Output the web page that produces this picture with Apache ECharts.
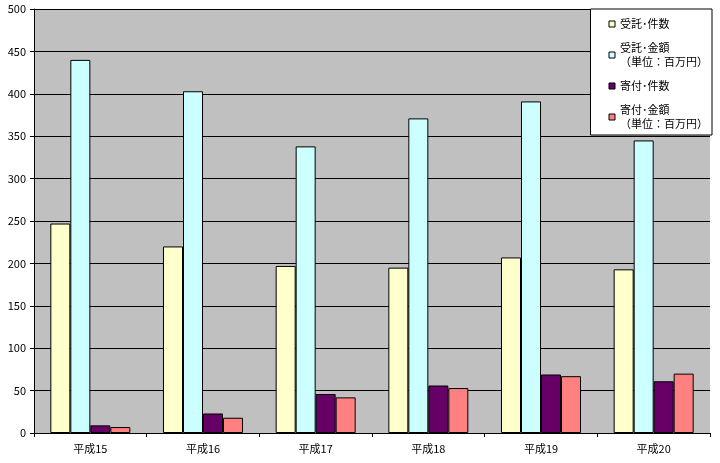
<!DOCTYPE html>
<html><head><meta charset="utf-8">
<script src="https://cdn.jsdelivr.net/npm/echarts@6/dist/echarts.min.js"></script>
<style>html,body{margin:0;padding:0;background:#fff}#c{width:720px;height:463px}</style>
</head><body><div id="c"></div>
<script>
// 年度
var categories = ['平成15', '平成16', '平成17', '平成18', '平成19', '平成20'];
// 受託・件数
var jutakuKen = [247, 220, 197, 195, 207, 193];
// 受託・金額（単位：百万円）
var jutakuKin = [440, 403, 338, 371, 391, 345];
// 寄付・件数
var kifuKen = [9, 23, 46, 56, 69, 61];
// 寄付・金額（単位：百万円）
var kifuKin = [7, 18, 42, 53, 67, 70];
var names = ['受託･件数', '受託･金額\n（単位：百万円）', '寄付･件数', '寄付･金額\n（単位：百万円）'];
var colors = ['#ffffcc', '#ccffff', '#660066', '#ff8080'];

var font = '"Noto Sans CJK JP", sans-serif';
var myChart = echarts.init(document.getElementById('c'));
function s(i, data) {
	return {
		name: names[i], type: 'bar', data: data, barGap: '0%', barCategoryGap: '29%',
		itemStyle: {color: colors[i], borderColor: '#000', borderWidth: 1}
	};
}
var option = {
	animation: false,
	textStyle: {fontFamily: font},
	grid: {left: 34, right: 10, top: 9, bottom: 30},
	legend: {
		orient: 'vertical', right: 8, top: 9, width: 108, height: 126,
		padding: [8, 4, 4, 18], itemGap: 10,
		backgroundColor: '#fff', borderColor: '#000', borderWidth: 1,
		itemWidth: 6, itemHeight: 6, icon: 'rect',
		itemStyle: {borderColor: '#000', borderWidth: 1},
		textStyle: {fontSize: 11, color: '#000', lineHeight: 14, fontFamily: font},
		data: names
	},
	xAxis: {
		type: 'category', data: categories,
		axisLine: {lineStyle: {color: '#000'}},
		axisTick: {show: true, length: 4, lineStyle: {color: '#000'}},
		axisLabel: {color: '#000', fontSize: 11, margin: 10}
	},
	yAxis: {
		type: 'value', min: 0, max: 500, interval: 50,
		axisLine: {show: true, lineStyle: {color: '#000'}},
		axisTick: {show: true, length: 4, lineStyle: {color: '#000'}},
		axisLabel: {color: '#000', fontSize: 11, margin: 8},
		splitLine: {lineStyle: {color: '#000', width: 1}},
		splitArea: {show: true, areaStyle: {color: ['#c0c0c0', '#c0c0c0']}}
	},
	series: [s(0, jutakuKen), s(1, jutakuKin), s(2, kifuKen), s(3, kifuKin)]
};
myChart.setOption(option);
</script></body></html>
